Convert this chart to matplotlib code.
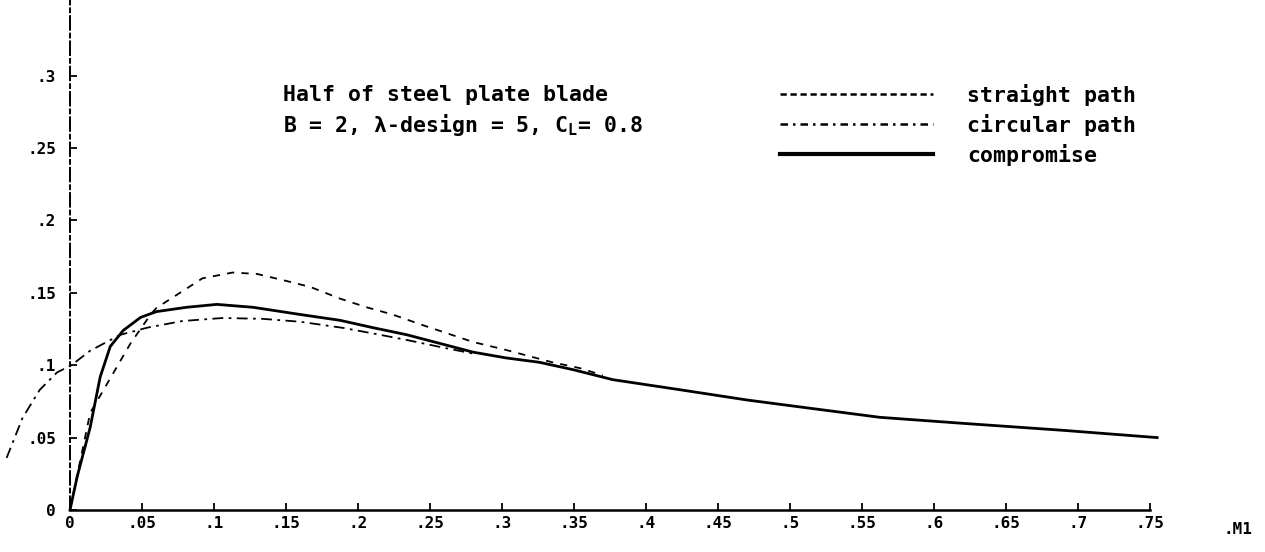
import matplotlib
matplotlib.use("Agg")
import matplotlib.pyplot as plt
from matplotlib.lines import Line2D

# ---- data ----
straight_x = [0.0, 0.014, 0.042, 0.056, 0.060, 0.092, 0.113, 0.130, 0.151,
              0.167, 0.1875, 0.206, 0.224, 0.244, 0.259, 0.280, 0.301, 0.335, 0.354, 0.37]
straight_y = [0.0, 0.067, 0.115, 0.135, 0.1395, 0.160, 0.164, 0.163, 0.158,
              0.154, 0.146, 0.140, 0.135, 0.128, 0.123, 0.116, 0.111, 0.102, 0.098, 0.093]

circular_x = [-0.044, -0.033, -0.021, -0.009, 0.001, 0.014, 0.035, 0.054, 0.078, 0.106,
              0.134, 0.160, 0.190, 0.210, 0.234, 0.257, 0.280]
circular_y = [0.036, 0.0635, 0.083, 0.095, 0.100, 0.110, 0.121, 0.126, 0.1305, 0.1326,
              0.132, 0.130, 0.1257, 0.122, 0.1174, 0.1126, 0.108]

compromise_x = [0.0, 0.005, 0.014, 0.021, 0.028, 0.037, 0.049, 0.060, 0.081, 0.102,
                0.127, 0.160, 0.1875, 0.210, 0.234, 0.257, 0.280, 0.303, 0.326, 0.349,
                0.377, 0.424, 0.470, 0.516, 0.5625, 0.618, 0.690, 0.755]
compromise_y = [0.0, 0.023, 0.057, 0.092, 0.113, 0.124, 0.133, 0.137, 0.140, 0.142,
                0.140, 0.135, 0.131, 0.126, 0.121, 0.115, 0.109, 0.105, 0.102, 0.097,
                0.090, 0.083, 0.076, 0.070, 0.064, 0.060, 0.055, 0.050]

xticks = [0, .05, .1, .15, .2, .25, .3, .35, .4, .45, .5, .55, .6, .65, .7, .75]
xticklabels = ["0", ".05", ".1", ".15", ".2", ".25", ".3", ".35", ".4", ".45",
               ".5", ".55", ".6", ".65", ".7", ".75"]
yticks = [0, .05, .1, .15, .2, .25, .3]
yticklabels = ["0", ".05", ".1", ".15", ".2", ".25", ".3"]

series_labels = ["straight path", "circular path", "compromise"]
title_lines = ["Half of steel plate blade", "B = 2, \u03bb-design = 5, C$_\\mathregular{L}$= 0.8"]
axis_note = ".M1"

# ---- figure ----
plt.rcParams['font.family'] = ['DejaVu Sans Mono', 'DejaVu Sans']
plt.rcParams['font.weight'] = 'bold'

fig = plt.figure(figsize=(12.65, 5.52), dpi=100)
ax = fig.add_axes([0, 0, 1, 1])
ax.set_xlim(-0.0486, 0.8299)
ax.set_ylim(-0.029, 0.3522)

for s in ("top", "right"):
    ax.spines[s].set_visible(False)
ax.spines["left"].set_position(("data", 0))
ax.spines["bottom"].set_position(("data", 0))
ax.spines["left"].set_bounds(0, 0.352)
ax.spines["bottom"].set_bounds(0, 0.75)
ax.spines["left"].set_linewidth(1.4)
ax.spines["left"].set_linestyle((0, (7, 2, 2, 2)))
ax.spines["bottom"].set_linewidth(1.8)

ax.set_xticks(xticks)
ax.set_xticklabels(xticklabels)
ax.set_yticks(yticks)
ax.set_yticklabels(yticklabels)
ax.tick_params(axis="x", direction="in", length=5, width=1.3, pad=4, labelsize=11.5)
ax.tick_params(axis="y", direction="in", length=5, width=1.3, pad=10, labelsize=11.5)

ax.plot(straight_x, straight_y, color="black", lw=1.3, dashes=(4, 4))
ax.plot(circular_x, circular_y, color="black", lw=1.3, dashes=(6, 3, 1.5, 3))
ax.plot(compromise_x, compromise_y, color="black", lw=2.0)

ax.text(283 / 1265, 1 - 95 / 552, title_lines[0], transform=ax.transAxes,
        fontsize=15.5, fontweight="bold", va="center", ha="left")
ax.text(283 / 1265, 1 - 125 / 552, title_lines[1], transform=ax.transAxes,
        fontsize=15.5, fontweight="bold", va="center", ha="left")

h1 = Line2D([], [], color="black", lw=1.8, dashes=(2.5, 1.5))
h2 = Line2D([], [], color="black", lw=1.8, dashes=(3, 2, 1, 2))
h3 = Line2D([], [], color="black", lw=3.0)
ax.legend([h1, h2, h3], series_labels, loc="upper left",
          bbox_to_anchor=(780 / 1265, 1 - 84 / 552), frameon=False,
          prop={"family": "DejaVu Sans Mono", "weight": "bold", "size": 15.5},
          handlelength=7.1, handletextpad=1.58, borderpad=0, borderaxespad=0,
          labelspacing=0.36)

ax.text(0.811, -0.0085, axis_note, transform=ax.transData,
        fontsize=11.5, fontweight="bold", va="top", ha="center")

fig.savefig("out.png", dpi=100, facecolor="white")
